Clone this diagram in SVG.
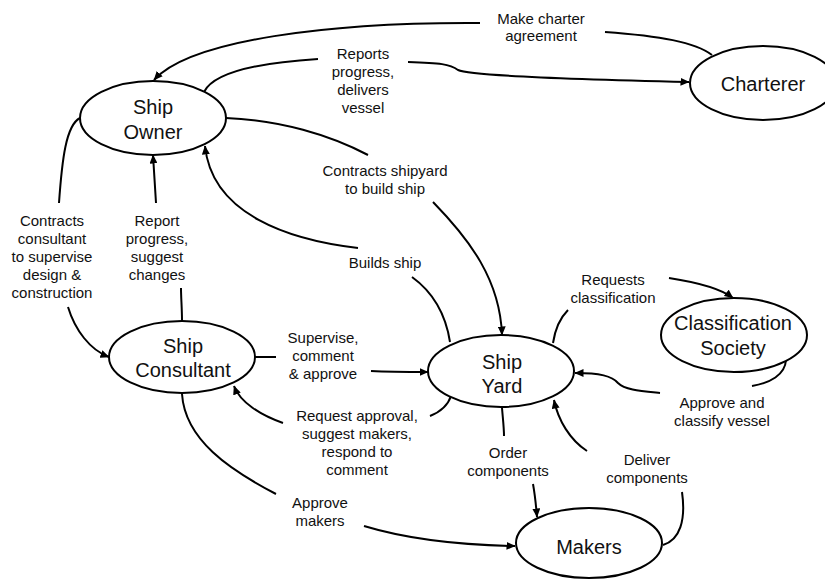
<svg xmlns="http://www.w3.org/2000/svg" width="825" height="579" viewBox="0 0 825 579">
<defs>
<marker id="ah" viewBox="0 0 9 8" refX="8.5" refY="4" markerWidth="9" markerHeight="8" markerUnits="userSpaceOnUse" orient="auto">
<path d="M0,0 L9,4 L0,8 z" fill="#000"/>
</marker>
<style>
.node ellipse{fill:#fff;stroke:#000;stroke-width:2}
.node text{font-family:"Liberation Sans",Arial,sans-serif;font-size:20px;fill:#111;text-anchor:middle}
.edges path{fill:none;stroke:#000;stroke-width:2}
.edges path.a{marker-end:url(#ah)}
.lbl{font-family:"Liberation Sans",Arial,sans-serif;font-size:15px;fill:#111;text-anchor:middle}
</style>
</defs>
<rect width="825" height="579" fill="#fff"/>
<g class="edges">
<!-- Make charter agreement -->
<path d="M712 55 C695 42 660 36 605 32"/>
<path class="a" d="M480 23 C330 22 190 40 154 80"/>
<!-- Reports progress, delivers vessel -->
<path d="M204 92 C215 70 270 62 318 59"/>
<path class="a" d="M408 62 C440 63 450 64 458 70 C470 76 600 80 689 82"/>
<!-- Contracts shipyard -->
<path d="M226 118 C280 120 330 135 368 155"/>
<path class="a" d="M433 202 C470 240 500 280 502 335"/>
<!-- Builds ship -->
<path d="M450 342 C445 310 430 290 412 277"/>
<path class="a" d="M358 248 C290 240 212 215 205 146"/>
<!-- Contracts consultant -->
<path d="M80 118 C66 125 62 160 59 203"/>
<path class="a" d="M68 307 C75 330 90 350 109 357"/>
<!-- Report progress, suggest changes -->
<path d="M182 321 C182 308 181 298 181 288"/>
<path class="a" d="M156 203 C155 185 154 170 153 155"/>
<!-- Supervise, comment & approve -->
<path d="M255 357 L276 357"/>
<path class="a" d="M371 371 C390 372 410 372 428 372"/>
<!-- Request approval -->
<path d="M451 396 C448 405 440 412 430 416"/>
<path class="a" d="M283 423 C260 415 240 402 234 386"/>
<!-- Approve makers -->
<path d="M182 394 C185 440 230 470 276 494"/>
<path class="a" d="M364 526 C410 540 460 545 515 546"/>
<!-- Requests classification -->
<path d="M553 343 C555 330 560 318 568 310"/>
<path class="a" d="M669 278 C695 282 720 288 733 298"/>
<!-- Approve and classify vessel -->
<path d="M786 360 C785 375 770 383 752 386"/>
<path class="a" d="M660 393 C640 391 625 390 618 383 C612 376 600 373 575 373"/>
<!-- Order components -->
<path d="M502 408 C503 420 504 428 504 436"/>
<path class="a" d="M533 484 C535 495 536 505 537 517"/>
<!-- Deliver components -->
<path d="M663 545 C680 540 686 520 682 492"/>
<path class="a" d="M587 451 C570 440 558 420 554 400"/>
</g>
<g class="labels">
<text class="lbl" x="541" y="24">Make charter<tspan x="541" dy="17">agreement</tspan></text>
<text class="lbl" x="363" y="59">Reports<tspan x="363" dy="18">progress,</tspan><tspan x="363" dy="18">delivers</tspan><tspan x="363" dy="18">vessel</tspan></text>
<text class="lbl" x="385" y="176">Contracts shipyard<tspan x="385" dy="18">to build ship</tspan></text>
<text class="lbl" x="52" y="226">Contracts<tspan x="52" dy="18">consultant</tspan><tspan x="52" dy="18">to supervise</tspan><tspan x="52" dy="18">design &amp;</tspan><tspan x="52" dy="18">construction</tspan></text>
<text class="lbl" x="157" y="226">Report<tspan x="157" dy="18">progress,</tspan><tspan x="157" dy="18">suggest</tspan><tspan x="157" dy="18">changes</tspan></text>
<text class="lbl" x="385" y="268">Builds ship</text>
<text class="lbl" x="323" y="343">Supervise,<tspan x="323" dy="18">comment</tspan><tspan x="323" dy="18">&amp; approve</tspan></text>
<text class="lbl" x="613" y="285">Requests<tspan x="613" dy="18">classification</tspan></text>
<text class="lbl" x="722" y="408">Approve and<tspan x="722" dy="18">classify vessel</tspan></text>
<text class="lbl" x="357" y="421">Request approval,<tspan x="357" dy="18">suggest makers,</tspan><tspan x="357" dy="18">respond to</tspan><tspan x="357" dy="18">comment</tspan></text>
<text class="lbl" x="508" y="458">Order<tspan x="508" dy="18">components</tspan></text>
<text class="lbl" x="647" y="465">Deliver<tspan x="647" dy="18">components</tspan></text>
<text class="lbl" x="320" y="508">Approve<tspan x="320" dy="18">makers</tspan></text>
</g>
<g id="ship-owner" class="node"><ellipse cx="153" cy="118" rx="73" ry="37"/><text x="153" y="114">Ship<tspan x="153" dy="25">Owner</tspan></text></g>
<g id="charterer" class="node"><ellipse cx="763" cy="83" rx="73" ry="37"/><text x="763" y="91">Charterer</text></g>
<g id="ship-consultant" class="node"><ellipse cx="182" cy="357" rx="73" ry="36"/><text x="183" y="353">Ship<tspan x="183" dy="24">Consultant</tspan></text></g>
<g id="ship-yard" class="node"><ellipse cx="501" cy="371" rx="73" ry="36"/><text x="502" y="369">Ship<tspan x="502" dy="24">Yard</tspan></text></g>
<g id="classification-society" class="node"><ellipse cx="734" cy="335" rx="73" ry="37"/><text x="733" y="330">Classification<tspan x="733" dy="25">Society</tspan></text></g>
<g id="makers" class="node"><ellipse cx="589" cy="543" rx="73" ry="35"/><text x="589" y="554">Makers</text></g>
</svg>
